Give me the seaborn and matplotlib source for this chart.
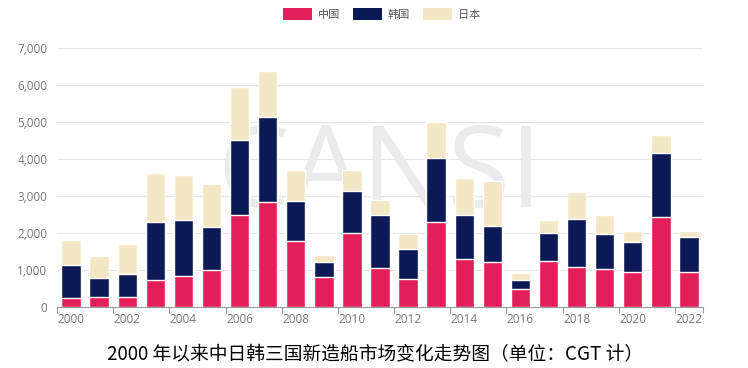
import numpy as np
import pandas as pd
import matplotlib
matplotlib.use('Agg')
import matplotlib.pyplot as plt
from matplotlib.patches import Patch
import seaborn as sns

# data (CGT)
years = [str(y) for y in range(2000, 2023)]
china_top = [250, 268, 277, 723, 830, 991, 2473, 2830, 1795, 812, 1991, 1054, 768,
             2286, 1286, 1205, 500, 1232, 1071, 1036, 955, 2420, 938]
korea_top = [1143, 777, 902, 2295, 2348, 2170, 4509, 5143, 2857, 1214, 3134, 2473, 1571,
             4036, 2500, 2196, 723, 2009, 2384, 1973, 1759, 4152, 1902]
japan_top = [1812, 1384, 1705, 3634, 3571, 3313, 5937, 6366, 3714, 1393, 3714, 2893, 1964,
             5009, 3482, 3402, 920, 2357, 3098, 2500, 2063, 4652, 2054]

series_names = ['中国', '韩国', '日本']
colors = ['#e21f58', '#0b1a54', '#f4e7c6']
yticks = [0, 1000, 2000, 3000, 4000, 5000, 6000, 7000]

df = pd.DataFrame({'year': years, 'china': china_top, 'korea': korea_top, 'japan': japan_top})

sns.set_theme(style='white')
plt.rcParams['font.family'] = ['Noto Sans CJK SC', 'DejaVu Sans']

fig = plt.figure(figsize=(7.48, 3.68), dpi=100)
ax = fig.add_axes([57/748, 1 - 307/368, (703 - 57)/748, (307 - 48)/368])

# stacked bars: draw cumulative totals from tallest down
for col, c in zip(['japan', 'korea', 'china'], colors[::-1]):
    sns.barplot(data=df, x='year', y=col, color=c, width=0.69, saturation=1,
                ax=ax, zorder=3)

ax.set_ylim(0, 7000)
ax.set_xlim(-0.5, len(years) - 0.5)
ax.set_yticks(yticks)
ax.set_yticklabels([f'{v:,}' for v in yticks], family='Open Sans')
ax.yaxis.grid(True, color='#e6e6e6', linewidth=0.8, zorder=0)
ax.set_axisbelow(True)
ax.set_xlabel('')
ax.set_ylabel('')

# x labels every other year, ticks on category boundaries
ax.set_xticks(range(0, len(years), 2))
ax.set_xticklabels(years[::2], family='Open Sans')
ax.set_xticks(list(np.arange(-0.5, len(years), 2)) + [len(years) - 0.5], minor=True)
ax.tick_params(axis='x', which='major', length=0, pad=4, labelsize=8.5, labelcolor='#777777')
ax.tick_params(axis='x', which='minor', length=4, color='#999999', width=0.8, bottom=True)
ax.tick_params(axis='y', length=0, pad=7, labelsize=8.5, labelcolor='#777777')

for s in ['top', 'right', 'left']:
    ax.spines[s].set_visible(False)
ax.spines['bottom'].set_color('#999999')
ax.spines['bottom'].set_linewidth(0.8)

# faint watermark
ax.text(0.5, 0.5, 'CANSI', transform=ax.transAxes, ha='center', va='center',
        fontsize=82, color='#ebebeb', family='Open Sans', zorder=1)

handles = [Patch(facecolor=c, edgecolor='none') for c in colors]
fig.legend(handles, series_names, loc='center', bbox_to_anchor=(0.51, 1 - 14/368),
           ncol=3, frameon=False, fontsize=8, handlelength=2.6, handleheight=1.3,
           columnspacing=1.2, handletextpad=0.5, labelcolor='#555555')

fig.text(0.502, 1 - 355/368, '2000 年以来中日韩三国新造船市场变化走势图（单位：CGT 计）',
         ha='center', va='center', fontsize=13.5, color='black')

fig.savefig('out.png', dpi=100)
